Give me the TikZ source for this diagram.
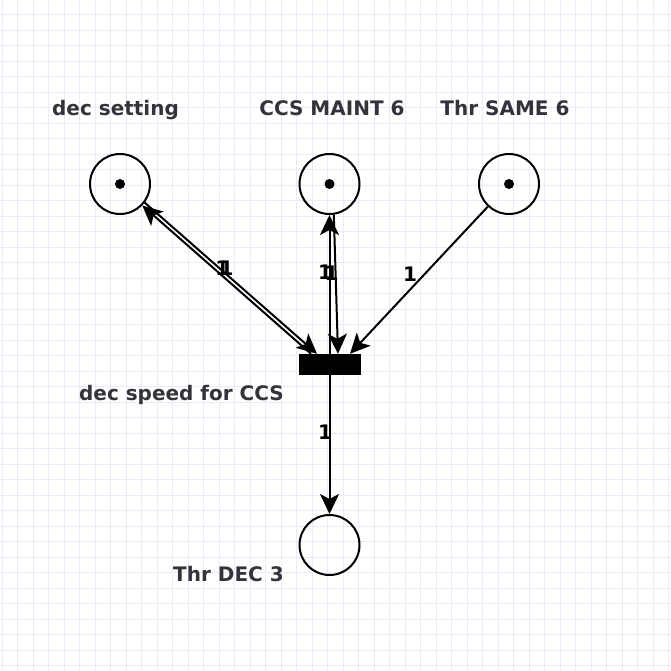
\documentclass[tikz,border=0pt]{standalone}
\usepackage{fontspec}
\setmainfont{DejaVu Sans}
\usetikzlibrary{arrows.meta}
\definecolor{gridcolor}{RGB}{234,234,248}
\definecolor{labeltext}{RGB}{51,51,60}
\tikzset{
  gridrule/.style={draw=gridcolor, line width=0.7pt},
  place/.style={circle, draw, line width=2pt, minimum size=60pt, inner sep=0pt},
  token/.style={circle, fill, inner sep=0pt, minimum size=10pt},
  transition/.style={rectangle, draw, fill=black, minimum width=61pt, minimum height=20pt, inner sep=0pt},
  title/.style={anchor=base, text=labeltext, font=\fontsize{20}{24}\selectfont\bfseries},
  weight/.style={font=\fontsize{20}{22}\selectfont\bfseries, inner sep=0pt},
  arc/.style={line width=2pt, -{Stealth[length=20pt,width=19pt,inset=5pt]}}
}
\begin{document}
\begin{tikzpicture}[x=1pt, y=-1pt]
        \useasboundingbox (0,0) rectangle (671,671);
        % Background grid
        \fill[white] (0,0) rectangle (671,671);
        \foreach \gx in {2.2,17.7,...,671} \draw[gridrule] (\gx,0) -- (\gx,671);
        \foreach \gy in {14.5,30,...,671} \draw[gridrule] (0,\gy) -- (671,\gy);

        % Places
        \node[place] (p1) at (120,184) {};
        \node[place] (p2) at (329.5,184) {};
        \node[place] (p3) at (509,184) {};
        \node[place] (p4) at (329.5,545) {};
        \node[token] (tok1) at (p1) {};
        \node[token] (tok2) at (p2) {};
        \node[token] (tok3) at (p3) {};

        % Transition
        \node[transition] (t) at (329.5,364) {};

        % Titles
        \node[title] (n1) at (115.5,116) {dec setting};
        \node[title] (n2) at (332,116) {CCS MAINT 6};
        \node[title] (n3) at (505,116) {Thr SAME 6};
        \node[title] (nt) at (181.5,400) {dec speed for CCS};
        \node[title] (n4) at (228.5,581) {Thr DEC 3};

        % Arcs
        \draw[arc] (p1.-37) -- node[weight, pos=0.45, yshift=2pt] {1} ([xshift=-12.5pt]t.north);
        \draw[arc] ([xshift=-18.5pt]t.north) -- node[weight, pos=0.5, yshift=11pt] {1} (p1.-44);
        \draw[arc] (t.north) -- node[weight, pos=0.585, xshift=-4.5pt] {1} (p2.south);
        \draw[arc] (p2.-82) -- node[weight, pos=0.42, xshift=-4pt] {1} ([xshift=8.5pt]t.north);
        \draw[arc] (p3) -- node[weight, pos=0.456, xshift=-15pt] {1} ([xshift=20.5pt]t.north);
        \draw[arc] (t) -- node[weight, pos=0.417, xshift=-4.5pt] {1} (p4);

    \end{tikzpicture}
\end{document}
